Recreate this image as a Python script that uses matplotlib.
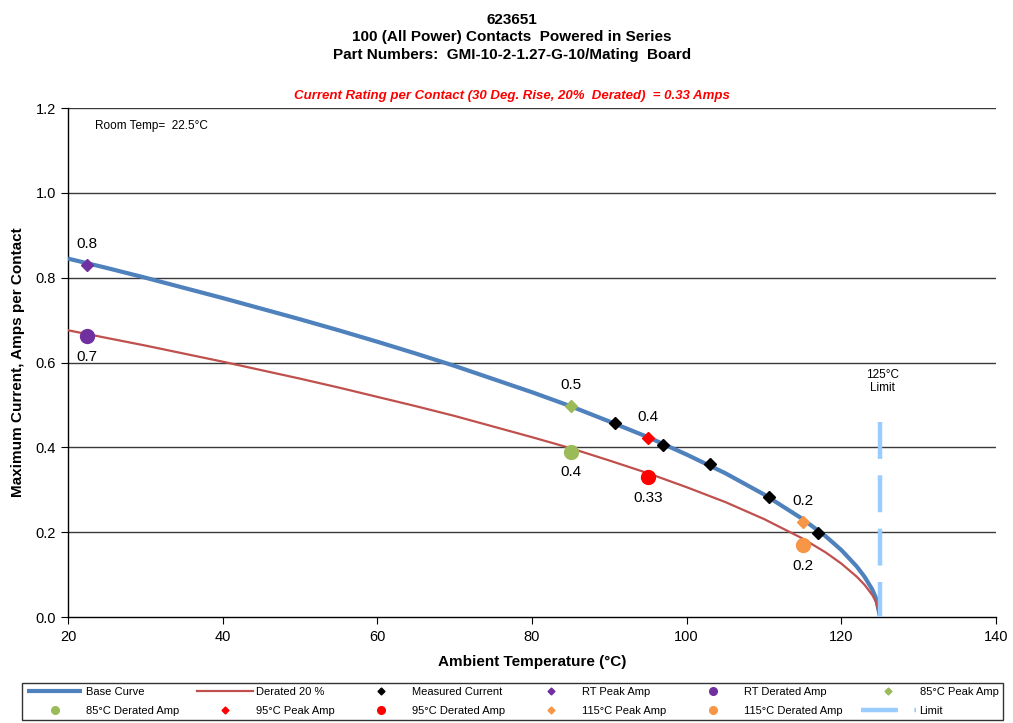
import matplotlib
matplotlib.use("Agg")
import matplotlib.pyplot as plt
from matplotlib.lines import Line2D

# Base current-vs-temperature curve (deg C, A per contact)
curve_temp = [20, 25, 30, 35, 40, 45, 50, 55, 60, 65, 70, 75, 80, 85, 90, 95,
              100, 105, 110, 115, 118, 120, 122, 123, 124, 124.5, 125]
base_curve = [0.845, 0.823, 0.800, 0.776, 0.752, 0.727, 0.702, 0.676, 0.649,
              0.621, 0.592, 0.561, 0.530, 0.497, 0.461, 0.424, 0.383, 0.339,
              0.289, 0.231, 0.190, 0.158, 0.119, 0.095, 0.065, 0.044, 0.0]
derated_curve = [0.676, 0.658, 0.640, 0.621, 0.602, 0.582, 0.562, 0.541, 0.519,
                 0.497, 0.474, 0.449, 0.424, 0.398, 0.369, 0.339, 0.306, 0.271,
                 0.231, 0.185, 0.152, 0.126, 0.095, 0.076, 0.052, 0.035, 0.0]

# Measured points
measured_temp = [90.8, 97.0, 103.0, 110.6, 117.0]
measured_amp = [0.457, 0.406, 0.360, 0.284, 0.197]

# Peak / derated points at each test temperature
point_temp = [22.5, 85, 95, 115]
peak_amp = [0.83, 0.497, 0.422, 0.224]
derated_amp = [0.662, 0.390, 0.330, 0.170]
peak_decimals = [1, 1, 1, 1]
derated_decimals = [1, 1, 2, 1]
point_names = ["RT", "85\u00b0C", "95\u00b0C", "115\u00b0C"]
point_colors = ["#7030A0", "#9BBB59", "#FF0000", "#F79646"]

# Temperature limit marker, drawn top-down
limit_temp = [125, 125]
limit_amp = [0.46, 0.0]

x_ticks = [20, 40, 60, 80, 100, 120, 140]
y_ticks = [0.0, 0.2, 0.4, 0.6, 0.8, 1.0, 1.2]

plt.rcParams["font.family"] = ["Liberation Sans", "DejaVu Sans"]

fig = plt.figure(figsize=(10.13, 7.23), dpi=100)
ax = fig.add_axes([0.0671, 0.1466, 0.9161, 0.7040])

ax.set_xlim(20, 140)
ax.set_ylim(0, 1.2)
ax.set_xticks(x_ticks)
ax.set_yticks(y_ticks)
ax.set_yticklabels([f"{v:.1f}" for v in y_ticks])
ax.tick_params(axis="both", direction="out", length=5, labelsize=10.5,
               colors="black")
ax.tick_params(axis="x", pad=4)
for v in y_ticks[1:]:
    ax.axhline(v, color="#3a3a3a", lw=1.0, zorder=0)
for s in ["top", "right"]:
    ax.spines[s].set_visible(False)
ax.spines["left"].set_linewidth(1.0)
ax.spines["bottom"].set_linewidth(1.0)

handles = []
h_base, = ax.plot(curve_temp, base_curve, color="#4F81BD", lw=3.0,
                  solid_capstyle="butt", label="Base Curve", zorder=3)
h_der, = ax.plot(curve_temp, derated_curve, color="#C0504D", lw=1.6,
                 label="Derated 20 %", zorder=3)
h_meas, = ax.plot(measured_temp, measured_amp, ls="none", marker="D",
                  ms=6.5, color="black", label="Measured Current", zorder=5)
handles += [h_base, h_der, h_meas]

for t, pk, dr, pd, dd, name, col in zip(point_temp, peak_amp, derated_amp,
                                        peak_decimals, derated_decimals,
                                        point_names, point_colors):
    hp, = ax.plot([t], [pk], ls="none", marker="D", ms=6.5, color=col,
                  label=f"{name} Peak Amp", zorder=6)
    hd, = ax.plot([t], [dr], ls="none", marker="o", ms=10, color=col,
                  label=f"{name} Derated Amp", zorder=6)
    handles += [hp, hd]
    ax.annotate(f"{pk:.{pd}f}", (t, pk), xytext=(0, 10),
                textcoords="offset points", ha="center", va="bottom",
                fontsize=11)
    ax.annotate(f"{dr:.{dd}f}", (t, dr), xytext=(0, -10),
                textcoords="offset points", ha="center", va="top",
                fontsize=11)

h_lim, = ax.plot(limit_temp, limit_amp, color="#99CCFF", lw=3.2,
                 dashes=(8.3, 3.7), label="Limit", zorder=4)
handles.append(h_lim)

ax.text(125.3, 0.555, "125\u00b0C\nLimit", ha="center", va="center",
        fontsize=8.5, linespacing=1.1)
ax.text(23.5, 1.158, "Room Temp=  22.5\u00b0C", ha="left", va="center",
        fontsize=8.5)

ax.set_xlabel("Ambient Temperature (\u00b0C)", fontsize=11, fontweight="bold",
              labelpad=8)
ax.set_ylabel("Maximum Current, Amps per Contact", fontsize=11,
              fontweight="bold", labelpad=8)

title_font = ["Liberation Sans Narrow", "Liberation Sans", "DejaVu Sans"]
fig.text(0.505, 0.982, "623651", ha="center", va="top", fontsize=11,
         fontweight="bold", family=title_font)
fig.text(0.505, 0.958, "100 (All Power) Contacts  Powered in Series",
         ha="center", va="top", fontsize=11, fontweight="bold",
         family=title_font)
fig.text(0.505, 0.934, "Part Numbers:  GMI-10-2-1.27-G-10/Mating  Board",
         ha="center", va="top", fontsize=11, fontweight="bold",
         family=title_font)
fig.text(0.505, 0.867,
         "Current Rating per Contact (30 Deg. Rise, 20%  Derated)  = 0.33 Amps",
         ha="center", va="center", fontsize=9.5, fontweight="bold",
         style="italic", color="#FF0000", family=title_font)

# Legend: small markers, entries laid out row by row in 6 columns
leg_handles = []
for h in handles:
    if h.get_linestyle() == "None":
        m = h.get_marker()
        leg_handles.append(Line2D([], [], ls="none", marker=m,
                                  ms=3.5 if m == "D" else 5.5,
                                  color=h.get_color(), label=h.get_label()))
    else:
        leg_handles.append(h)
ncol = 6
nrow = 2
ordered = [leg_handles[r * ncol + c] for c in range(ncol) for r in range(nrow)]
leg = fig.legend(handles=ordered, loc="lower left", ncol=ncol,
                 bbox_to_anchor=(0.022, 0.004, 0.968, 0.058),
                 mode="expand", fontsize=8, frameon=True, fancybox=False,
                 edgecolor="black", handlelength=5.0, columnspacing=0.8,
                 borderaxespad=0.0, handletextpad=0.3, labelspacing=0.75)
leg.get_frame().set_linewidth(1.0)

fig.savefig("out.png", dpi=100)
